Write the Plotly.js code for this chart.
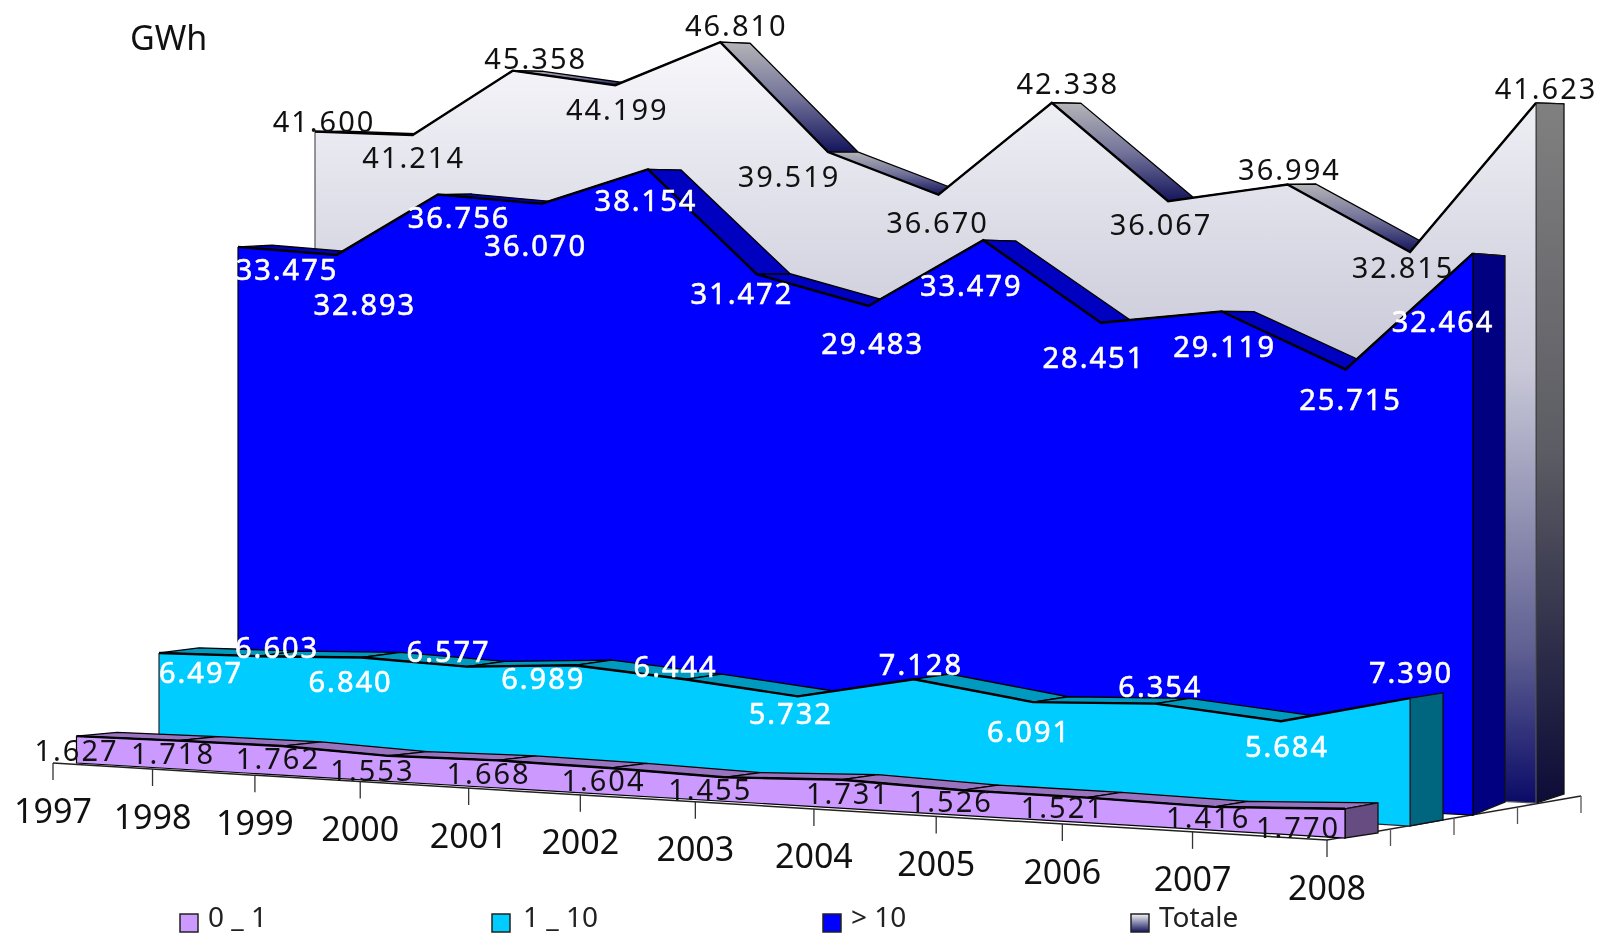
<!DOCTYPE html>
<html>
<head>
<meta charset="utf-8">
<script src="https://cdn.plot.ly/plotly-3.0.1.min.js"></script>
<style>
html,body{margin:0;padding:0;background:#fff;overflow:hidden}
#chart{width:1597px;height:940px;filter:blur(0.6px)}
</style>
</head>
<body>
<div id="chart"></div>
<script>
// ---- data (thousands of GWh)
var years = ['1997','1998','1999','2000','2001','2002','2003','2004','2005','2006','2007','2008'];
var small = [1.627,1.718,1.762,1.553,1.668,1.604,1.455,1.731,1.526,1.521,1.416,1.770];
var mid   = [6.497,6.603,6.840,6.577,6.989,6.444,5.732,7.128,6.091,6.354,5.684,7.390];
var big   = [33.475,32.893,36.756,36.070,38.154,31.472,29.483,33.479,28.451,29.119,25.715,32.464];
var total = [41.600,41.214,45.358,44.199,46.810,39.519,36.670,42.338,36.067,36.994,32.815,41.623];
var legendNames = ['0 _ 1','1 _ 10','> 10','Totale'];

// ---- pseudo-3D projection parameters
var R = 1.15;
var planes = {
  total:{front:{xL:315,xR:1536,bL:740,bR:803,k:16.82,p:R},back:{xL:346,xR:1564,bL:731,bR:794,k:16.58,p:R}},
  big:  {front:{xL:238,xR:1473,bL:750.5,bR:815,k:17.3,p:R},back:{xL:272,xR:1505,bL:743.5,bR:802,k:16.82,p:1.13}},
  mid:  {front:{xL:159,xR:1410,bL:750.7,bR:826,k:17.3,p:R},back:{xL:199,xR:1443,bL:745,bR:820,k:17.2,p:R}},
  small:{front:{xL:76.5,xR:1345,bL:763,bR:838,k:16.5,p:1},back:{xL:117,xR:1378,bL:760,bR:833,k:17,p:1}}
};
var axisPlane = {xL:53,xR:1327,yL:763,yR:840,r:1.18,tick:17,label:47};
var depthStep = {dx:63.5,dy:-11,steps:[1,2,3,4]};
var TEXT_DY = 4;

// label placement relative to the top vertex of each year
var offTotal = [[9,-11],[1,22],[23,-13],[2,24],[16,-17],[-39,24],[-1,27],[16,-20],[-7,23],[2,-16],[-7,15],[10,-15]];
var offBig   = [[49,22],[28,49],[21,22],[-6,41],[-2,30],[-15,18],[4,37],[-12,45],[-7,34],[3,34],[5,29],[-30,67]];
var offMid   = [[42,19],[18,-9],[-11,23],[-18,-16],[-31,12],[-9,-14],[-7,16],[7,-15],[-4,29],[5,-18],[6,25],[1,-26]];
var offSmall = [[0,14],[-5,12],[-4,12],[-16,14],[-9,12],[-6,12],[-14,11],[6,13],[-12,11],[-24,9],[-6,10],[-47,18]];

function sOf(i,r){return i/(i+(11-i)*r);}
function proj(pl,i,v){
  var s=sOf(i,R), u=i/11, D=pl.p-(pl.p-1)*u;
  return [pl.xL+s*(pl.xR-pl.xL), pl.bL+s*(pl.bR-pl.bL)-v*pl.k/D];
}
var traces=[];
function poly(pts,fill,lineColor,lineW,grad){
  var t={type:'scatter',mode:'lines',x:pts.map(function(p){return p[0];}),y:pts.map(function(p){return p[1];}),
    fill:'toself',line:{color:lineColor,width:lineW},showlegend:false,hoverinfo:'skip',cliponaxis:false};
  if(grad){t.fillgradient={type:'vertical',colorscale:grad};}
  else t.fillcolor=fill;
  traces.push(t);
}
function polyline(pts,color,w){
  traces.push({type:'scatter',mode:'lines',x:pts.map(function(p){return p[0];}),y:pts.map(function(p){return p[1];}),
    line:{color:color,width:w},showlegend:false,hoverinfo:'skip',cliponaxis:false});
}
function series(name,vals,cols){
  var P=planes[name],F=P.front,B=P.back;
  for(var i=0;i<11;i++){
    var q=[proj(F,i,vals[i]),proj(F,i+1,vals[i+1]),proj(B,i+1,vals[i+1]),proj(B,i,vals[i])];
    q.push(q[0]);
    poly(q,cols.side,'#000',1.3,cols.sideGrad);
  }
  var c=[proj(F,11,vals[11]),proj(B,11,vals[11]),proj(B,11,0),proj(F,11,0)];
  c.push(c[0]);
  poly(c,cols.cap,'#111',1.3,cols.capGrad);
  var top=vals.map(function(v,j){return proj(F,j,v);});
  var face=top.concat([proj(F,11,0),proj(F,0,0),top[0]]);
  poly(face,cols.face,cols.edge,1.2,cols.faceGrad);
  polyline(top,'#000',2.4);
}

// floor: front axis line + depth line + ticks
var axX=function(i){return axisPlane.xL+sOf(i,axisPlane.r)*(axisPlane.xR-axisPlane.xL);};
var axY=function(i){return axisPlane.yL+sOf(i,axisPlane.r)*(axisPlane.yR-axisPlane.yL);};
years.forEach(function(y,i){polyline([[axX(i),axY(i)],[axX(i),axY(i)+axisPlane.tick]],'#333',1.3);});
var last=[axX(11),axY(11)];
var dLast=depthStep.steps[depthStep.steps.length-1];
polyline([[axX(0),axY(0)],last,[last[0]+dLast*depthStep.dx,last[1]+dLast*depthStep.dy]],'#222',1.5);
depthStep.steps.forEach(function(d){
  var x=last[0]+d*depthStep.dx,y=last[1]+d*depthStep.dy;
  polyline([[x,y],[x,y+axisPlane.tick]],'#555',1.3);
});

// colorscale position 0 = bottom of the face, 1 = top
series('total',total,{
  faceGrad:[[0,'#0b0b68'],[0.2,'#5f5f92'],[0.57,'#c8c8d8'],[1,'#f7f7fb']],
  sideGrad:[[0,'#14145c'],[0.5,'#74749a'],[1,'#b4b4b8']],
  capGrad:[[0,'#0c0c38'],[0.2,'#2a2a48'],[0.5,'#5c5c64'],[1,'#808080']],
  edge:'#555'
});
series('big',big,{face:'#0000ff',side:'#0000c0',cap:'#000080',edge:'#000'});
series('mid',mid,{face:'#00ccff',side:'#009ac0',cap:'#006680',edge:'#223'});
series('small',small,{face:'#cc99ff',side:'#9973c0',cap:'#664c80',edge:'#000'});

// text
var FONT='"Noto Sans", sans-serif';
function labels(name,vals,off,color){
  var F=planes[name].front, xs=[],ys=[];
  vals.forEach(function(v,i){var p=proj(F,i,v);xs.push(p[0]+off[i][0]);ys.push(p[1]+off[i][1]+TEXT_DY);});
  traces.push({type:'scatter',mode:'text',x:xs,y:ys,text:vals.map(function(v){return v.toFixed(3);}),
    textposition:'middle center',textfont:{family:FONT,size:29,color:color},showlegend:false,hoverinfo:'skip',cliponaxis:false});
}
labels('total',total,offTotal,'#111');
labels('big',big,offBig,'#fff');
labels('mid',mid,offMid,'#fff');
labels('small',small,offSmall,'#111');

traces.push({type:'scatter',mode:'text',x:years.map(function(y,i){return axX(i);}),
  y:years.map(function(y,i){return axY(i)+axisPlane.label+TEXT_DY;}),text:years,textposition:'middle center',
  textfont:{family:FONT,size:34,color:'#111'},showlegend:false,hoverinfo:'skip',cliponaxis:false});

// legend (drawn with markers, spaced like the reference)
var legX=[189,501,832,1140], legTextX=[208,523,851,1159], legY=923, legTextY=920;
var legCols=['#cc99ff','#00ccff','#0000ff','#f4f4f8'];
legendNames.forEach(function(n,i){
  var m={symbol:'square',size:18,color:legCols[i],line:{color:'#222',width:1.5}};
  if(i===3)m.gradient={type:'vertical',color:'#14145c'};
  traces.push({type:'scatter',mode:'markers',x:[legX[i]],y:[legY],marker:m,showlegend:false,hoverinfo:'skip',cliponaxis:false});
  traces.push({type:'scatter',mode:'text',x:[legTextX[i]],y:[legTextY],text:[n],textposition:'middle right',
    textfont:{family:FONT,size:28,color:'#222'},showlegend:false,hoverinfo:'skip',cliponaxis:false});
});
// unit
traces.push({type:'scatter',mode:'text',x:[130],y:[37+TEXT_DY],text:['GWh'],textposition:'middle right',
  textfont:{family:FONT,size:34,color:'#111'},showlegend:false,hoverinfo:'skip',cliponaxis:false});

var layout={width:1597,height:940,margin:{l:0,r:0,t:0,b:0},paper_bgcolor:'#fff',plot_bgcolor:'#fff',showlegend:false,
  xaxis:{range:[0,1597],visible:false,fixedrange:true},
  yaxis:{range:[940,0],visible:false,fixedrange:true}};
Plotly.newPlot('chart',traces,layout,{displayModeBar:false,staticPlot:true}).then(function(gd){
  gd.querySelectorAll('.textpoint text').forEach(function(t){
    if(/^\d+\.\d{3}$/.test(t.textContent)){
      t.style.letterSpacing='2px';
      if((t.style.fill||'').indexOf('255, 255, 255')>=0){t.style.stroke='#fff';t.style.strokeWidth='0.6px';}
    }
  });
});
</script>
</body>
</html>
